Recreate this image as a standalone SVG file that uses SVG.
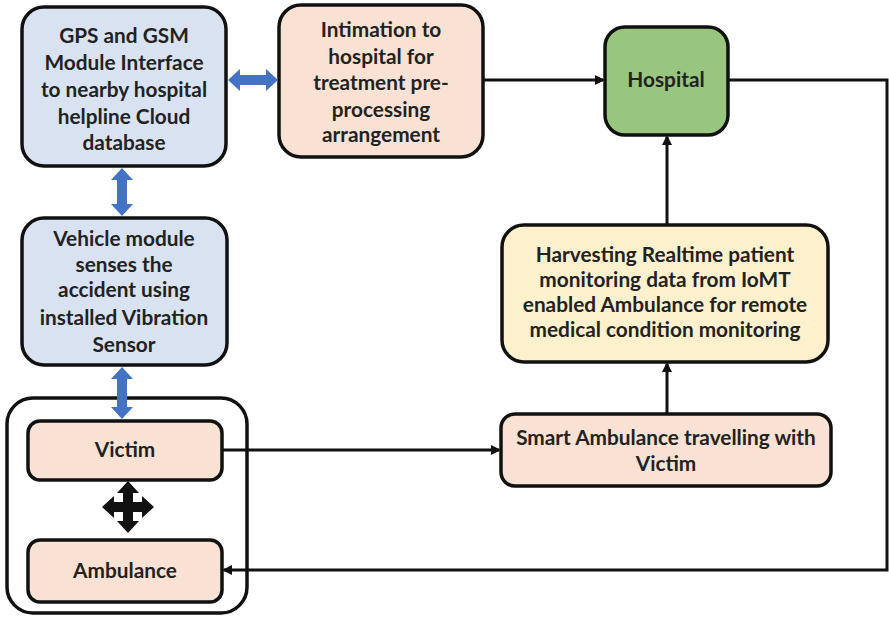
<svg xmlns="http://www.w3.org/2000/svg" width="889" height="617" viewBox="0 0 889 617">
<style>
.box{stroke:#111;stroke-width:3.5}
.blue{fill:#d9e2f1}
.peach{fill:#f9e2d3}
.green{fill:#99c67e}
.yellow{fill:#fdf1cd}
text{font-family:Lato,"Liberation Sans",sans-serif;font-weight:bold;font-size:20.8px;fill:#222;text-anchor:middle}
.ln{stroke:#111;stroke-width:3;fill:none}
.barrow{fill:#4472c4}
</style>
<defs>
<marker id="ah" markerWidth="10" markerHeight="10" refX="8" refY="5" orient="auto" markerUnits="userSpaceOnUse">
<path d="M0,0 L10,5 L0,10 z" fill="#111"/>
</marker>
</defs>
<rect width="889" height="617" fill="#fff"/>
<g id="gps">
<rect class="box blue" x="22" y="7" width="204" height="159" rx="22"/>
<text x="124" y="43">GPS and GSM</text>
<text x="124" y="70">Module Interface</text>
<text x="124" y="97">to nearby hospital</text>
<text x="124" y="124">helpline Cloud</text>
<text x="124" y="150">database</text>
</g>
<g id="intimation">
<rect class="box peach" x="279" y="5" width="204" height="152" rx="22"/>
<text x="381" y="37">Intimation to</text>
<text x="381" y="64">hospital for</text>
<text x="381" y="90">treatment pre-</text>
<text x="381" y="117">processing</text>
<text x="381" y="142">arrangement</text>
</g>
<g id="hospital">
<rect class="box green" x="605" y="27" width="123" height="108" rx="20"/>
<text x="666" y="87">Hospital</text>
</g>
<g id="vehicle">
<rect class="box blue" x="22" y="218" width="205" height="147" rx="22"/>
<text x="124" y="246">Vehicle module</text>
<text x="124" y="272">senses the</text>
<text x="124" y="297">accident using</text>
<text x="124" y="325">installed Vibration</text>
<text x="124" y="352">Sensor</text>
</g>
<g id="harvesting">
<rect class="box yellow" x="502" y="225" width="326" height="137" rx="22"/>
<text x="665" y="262">Harvesting Realtime patient</text>
<text x="665" y="287">monitoring data from IoMT</text>
<text x="665" y="312">enabled Ambulance for remote</text>
<text x="665" y="337">medical condition monitoring</text>
</g>
<g id="smart">
<rect class="box peach" x="501" y="414" width="330" height="72" rx="14"/>
<text x="666" y="445">Smart Ambulance travelling with</text>
<text x="666" y="471">Victim</text>
</g>
<g id="group">
<rect x="7" y="398" width="240" height="215" rx="26" fill="none" stroke="#111" stroke-width="3.5"/>
</g>
<g id="victim">
<rect class="box peach" x="28" y="421" width="194" height="59" rx="12"/>
<text x="125" y="457">Victim</text>
</g>
<g id="ambulance">
<rect class="box peach" x="28" y="540" width="194" height="62" rx="12"/>
<text x="125" y="578">Ambulance</text>
</g>
<g id="connectors">
<polygon class="barrow" points="228,80 240,69 240,75 266,75 266,69 278,80 266,91 266,85 240,85 240,91"/>
<polygon class="barrow" points="122,168 111,180 117,180 117,204 111,204 122,216 133,204 127,204 127,180 133,180"/>
<polygon class="barrow" points="122,367 111,379 117,379 117,407 111,407 122,419 133,407 127,407 127,379 133,379"/>
<polygon fill="#111" points="128,481 139,493 133,493 133,502 142,502 142,496 154,507 142,518 142,512 133,512 133,521 139,521 128,533 117,521 123,521 123,512 114,512 114,518 102,507 114,496 114,502 123,502 123,493 117,493"/>
<line class="ln" x1="483" y1="80" x2="603" y2="80" marker-end="url(#ah)"/>
<polyline class="ln" points="728,80 887,80 887,570 224,570" marker-end="url(#ah)"/>
<line class="ln" x1="667" y1="225" x2="667" y2="137" marker-end="url(#ah)"/>
<line class="ln" x1="667" y1="414" x2="667" y2="364" marker-end="url(#ah)"/>
<line class="ln" x1="222" y1="450" x2="499" y2="450" marker-end="url(#ah)"/>
</g>
</svg>
